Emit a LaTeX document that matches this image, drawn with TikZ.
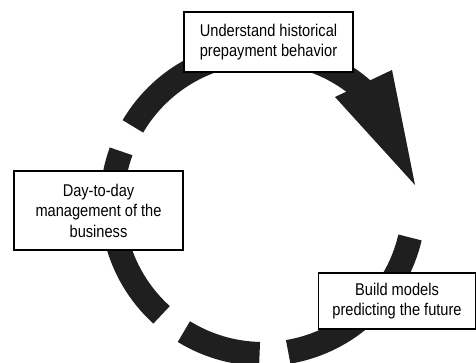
\documentclass[tikz,border=0pt]{standalone}
\usepackage{fontspec}
\setmainfont{Liberation Sans}[FakeStretch=0.86]
\begin{document}
\begin{tikzpicture}[x=1pt,y=1pt,
    stage/.style={draw, line width=1.1pt, fill=white, align=center, inner sep=0pt,
      font=\fontsize{17}{20.5}\selectfont},
    ring/.style={line width=24pt, black!88}]
  \useasboundingbox (0,0) rectangle (476,363);
  \clip (0,0) rectangle (476,363);
  \coordinate (c) at (263,160);
  % broken ring, running clockwise
  \draw[ring, shift={(c)}] (46:151) arc[start angle=46, end angle=149.5, radius=151];
  \foreach \a/\b in {160/227.8, 238.4/268.7, 279.6/346.8}{
    \draw[ring, shift={(c)}] (\a:151) arc[start angle=\a, end angle=\b, radius=151];
  }
  % head of the arrow
  \fill[black!88, shift={(c)}] (129,133) -- (152,18) -- (72,106) -- cycle;
  % the three stages
  \node[stage, minimum width=169pt, minimum height=60pt] (understand) at (268.5,321)
    {Understand historical\\prepayment behavior};
  \node[stage, minimum width=169pt, minimum height=79pt] (daily) at (98.5,152.5)
    {Day-to-day\\management of the\\business};
  \node[stage, minimum width=157pt, minimum height=56pt] (build) at (397,62)
    {Build models\\predicting the future};
\end{tikzpicture}
\end{document}
